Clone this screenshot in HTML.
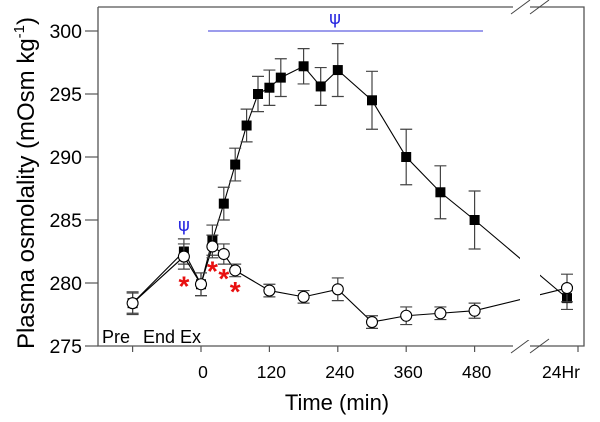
<!DOCTYPE html>
<html><head><meta charset="utf-8"><style>
body{margin:0;background:#fff;}
svg{display:block;font-family:"Liberation Sans",Arial,sans-serif;}
</style></head><body>
<svg id="chart" width="600" height="422" viewBox="0 0 600 422" xmlns="http://www.w3.org/2000/svg">
<g id="plot"></g>
</svg>
<script>
// data
const timesCircle = [-120, -30, 0, 20, 40, 60, 120, 180, 240, 300, 360, 420, 480, 'H24'];
const circleVals = [278.4, 282.1, 279.9, 282.9, 282.3, 281.0, 279.4, 278.9, 279.5, 276.9, 277.4, 277.6, 277.8, 279.6];
const circleErr = [0.8, 1.0, 0.9, 0.9, 0.8, 0.5, 0.5, 0.5, 0.9, 0.5, 0.7, 0.5, 0.6, 1.1];
const timesSquare = [-120, -30, 0, 20, 40, 60, 80, 100, 120, 140, 180, 210, 240, 300, 360, 420, 480, 'H24'];
const squareVals = [278.4, 282.5, 279.9, 283.4, 286.3, 289.4, 292.5, 295.0, 295.5, 296.3, 297.2, 295.6, 296.9, 294.5, 290.0, 287.2, 285.0, 278.8];
const squareErr = [0.9, 1.0, 0.9, 1.2, 1.3, 1.3, 1.3, 1.4, 1.4, 1.5, 1.4, 1.5, 2.1, 2.3, 2.2, 2.1, 2.3, 0.9];
const yTicks = [275, 280, 285, 290, 295, 300];
const xTicks = [-120, 0, 120, 240, 360, 480];
const xTickLabels = ['', '0', '120', '240', '360', '480'];
const stars = [[-30, 280.1], [20, 281.3], [40, 280.7], [60, 279.7]];

const NS = 'http://www.w3.org/2000/svg';
const g = document.getElementById('plot');
const L = 98, R = 584, T = 7, B = 346;
function y(v){ return 346 - (v - 275) * 12.6; }
function x(t){ return t === 'H24' ? 567 : 201 + t * 68.4 / 120; }
function el(tag, attrs, parent){ const e = document.createElementNS(NS, tag); for (const k in attrs) e.setAttribute(k, attrs[k]); (parent||g).appendChild(e); return e; }
function txt(s, attrs){ const e = el('text', attrs); e.textContent = s; return e; }

let f;
f = el('path', {d:`M${L},${T} L513,${T} M530,${T} L${R},${T} L${R},${B} L530,${B} M513,${B} L${L},${B} L${L},${T}`, fill:'none', stroke:'#555', 'stroke-width':1.3});
 
yTicks.forEach(v => {
  const t = el('line', {x1:L-13, x2:L, y1:y(v), y2:y(v), stroke:'#555', 'stroke-width':1.2});
   
  const l = txt(String(v), {x:82, y:y(v)+7, 'text-anchor':'end', 'font-size':19.5});
   
});
xTicks.forEach((v, i) => {
  const t = el('line', {x1:x(v), x2:x(v), y1:B, y2:B+6, stroke:'#555', 'stroke-width':1.2});
   
  const l = txt(xTickLabels[i], {x:x(v)+2, y:378, 'text-anchor':'middle', 'font-size':17.5});
   
});
let t24 = el('line', {x1:578, x2:578, y1:B, y2:B+6, stroke:'#555', 'stroke-width':1.2});
 
let l24 = txt('24Hr', {x:561, y:378, 'text-anchor':'middle', 'font-size':17.5});
 
[T, B].forEach(yy => {
  [0,19].forEach(dx => {
    const b = el('line', {x1:511+dx, y1:yy+7, x2:530+dx, y2:yy-7, stroke:'#444', 'stroke-width':1});
     
  });
});

function series(times, vals, errs, name, marker){
  const pts = times.map((t, i) => [x(t), y(vals[i])]);
  const line = el('polyline', {points: pts.map(p => p.join(',')).join(' '), fill:'none', stroke:'#000', 'stroke-width':1.1});
   
  const gap = el('rect', {x:520, y:200, width:20, height:140, fill:'#fff'});
   
  times.forEach((t, i) => {
    const cx = x(t), v = vals[i], e = errs[i];
    const eb = el('path', {d:`M${cx},${y(v+e)} L${cx},${y(v-e)} M${cx-6},${y(v+e)} L${cx+6},${y(v+e)} M${cx-6},${y(v-e)} L${cx+6},${y(v-e)}`, stroke:'#444', 'stroke-width':1.2, fill:'none'});
     
  });
  times.forEach((t, i) => {
    const cx = x(t), cy = y(vals[i]);
    let m;
    if (marker === 'square') m = el('rect', {x:cx-5, y:cy-5, width:10, height:10, fill:'#000'});
    else m = el('circle', {cx, cy, r:5.5, fill:'#fff', stroke:'#000', 'stroke-width':1.1});
     
  });
}
series(timesSquare, squareVals, squareErr, 'square-series', 'square');
series(timesCircle, circleVals, circleErr, 'circle-series', 'circle');

let psiLine = el('line', {x1:208, x2:483, y1:31, y2:31, stroke:'#3a3ad8', 'stroke-width':1});
 
let p1 = txt('ψ', {x:335, y:24, 'text-anchor':'middle', 'font-size':18, fill:'#2a2ae0', 'font-family':'DejaVu Sans'});
 
let p2 = txt('ψ', {x:x(-30), y:231, 'text-anchor':'middle', 'font-size':18, fill:'#2a2ae0', 'font-family':'DejaVu Sans'});
 
stars.forEach(([t, v]) => {
  const s = txt('*', {x:x(t), y:y(v)+14, 'text-anchor':'middle', 'font-size':28, 'font-weight':'bold', fill:'#e81010'});
   
});

let pre = txt('Pre', {x:102, y:343, 'font-size':18});
 
let ee = txt('End Ex', {x:143, y:343, 'font-size':18});
 

let xt = txt('Time (min)', {x:337, y:410, 'text-anchor':'middle', 'font-size':22});
 
let yt = el('text', {x:0, y:0, 'text-anchor':'middle', 'font-size':24, transform:'translate(34,183) rotate(-90)'});
yt.innerHTML = 'Plasma osmolality (mOsm kg<tspan dy="-10" font-size="15">-1</tspan><tspan dy="10">)</tspan>';
 
</script>
</body></html>
